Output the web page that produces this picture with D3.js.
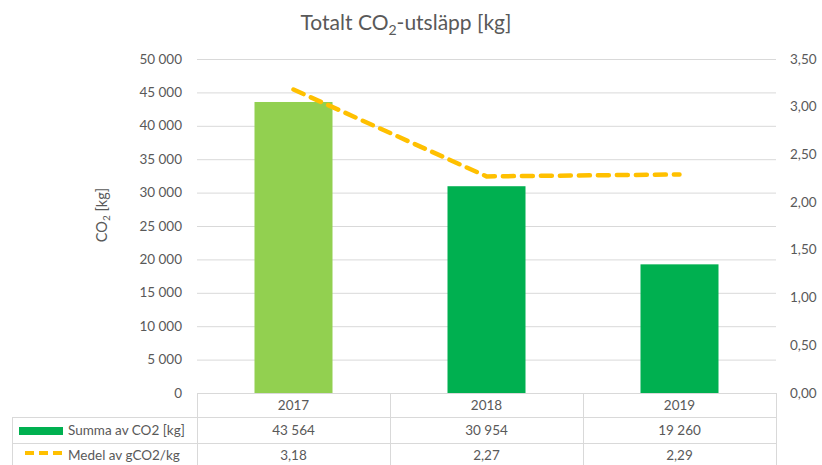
<!DOCTYPE html>
<html>
<head>
<meta charset="utf-8">
<script src="https://cdn.jsdelivr.net/npm/d3@7"></script>
<style>
  body { margin: 0; background: #fff; }
  svg text { font-family: Lato, "Open Sans", sans-serif; fill: #595959; }
</style>
</head>
<body>
<div id="chart"></div>
<script>
// Data
var years = ['2017', '2018', '2019'];
var co2Sum = [43564, 30954, 19260];
var gco2Mean = [3.18, 2.27, 2.29];
var barColors = ['#92D050', '#00B050', '#00B050'];
var leftTicks = [0, 5000, 10000, 15000, 20000, 25000, 30000, 35000, 40000, 45000, 50000];
var rightTicks = [0, 0.5, 1, 1.5, 2, 2.5, 3, 3.5];
var rowLabels = ['Summa av CO2 [kg]', 'Medel av gCO2/kg'];

var W = 822, H = 465;
var plot = { left: 197, right: 776, top: 59, bottom: 393 };

var svg = d3.select('#chart').append('svg')
    .attr('width', W)
    .attr('height', H);

// number formatting, swedish style
var fmtThousands = function(v) {
    return d3.format(',')(v).replace(/,/g, ' ');
};
var fmtDec = function(v) {
    return d3.format('.2f')(v).replace('.', ',');
};

var x = d3.scaleBand().domain(years).range([plot.left, plot.right]);
var yLeft = d3.scaleLinear().domain([0, 50000]).range([plot.bottom, plot.top]);
var yRight = d3.scaleLinear().domain([0, 3.5]).range([plot.bottom, plot.top]);

// gridlines
svg.append('g')
    .selectAll('line')
    .data(leftTicks.slice(1))
    .enter()
    .append('line')
    .attr('x1', plot.left)
    .attr('x2', plot.right)
    .attr('y1', function(d) { return yLeft(d) + 0.5; })
    .attr('y2', function(d) { return yLeft(d) + 0.5; })
    .attr('stroke', '#d9d9d9')
    .attr('stroke-width', 1);

// left axis labels
svg.append('g')
    .selectAll('text')
    .data(leftTicks)
    .enter()
    .append('text')
    .attr('x', 182)
    .attr('y', function(d) { return yLeft(d) + 4.5; })
    .attr('text-anchor', 'end')
    .style('font-size', '13.5px')
    .text(fmtThousands);

// right axis labels
svg.append('g')
    .selectAll('text')
    .data(rightTicks)
    .enter()
    .append('text')
    .attr('x', 790)
    .attr('y', function(d) { return yRight(d) + 4.5; })
    .attr('text-anchor', 'start')
    .style('font-size', '13.5px')
    .text(fmtDec);

// bars
var barW = 78;
svg.append('g')
    .selectAll('rect')
    .data(co2Sum)
    .enter()
    .append('rect')
    .attr('x', function(d, i) { return x(years[i]) + x.bandwidth() / 2 - barW / 2; })
    .attr('y', function(d) { return yLeft(d); })
    .attr('width', barW)
    .attr('height', function(d) { return plot.bottom - yLeft(d); })
    .attr('fill', function(d, i) { return barColors[i]; });

// line
var line = d3.line()
    .x(function(d, i) { return x(years[i]) + x.bandwidth() / 2; })
    .y(function(d) { return yRight(d); });

svg.append('path')
    .datum(gco2Mean)
    .attr('d', line)
    .attr('fill', 'none')
    .attr('stroke', '#FFC000')
    .attr('stroke-width', 4.5)
    .attr('stroke-dasharray', '11 8')
    .attr('stroke-linecap', 'round')
    .attr('stroke-linejoin', 'round');

// data table
var tbl = svg.append('g').attr('stroke', '#d9d9d9').attr('stroke-width', 1);
var rowY = [plot.bottom, 417, 443, 470];
// horizontal lines
tbl.append('line').attr('x1', plot.left).attr('x2', plot.right).attr('y1', rowY[0] + 0.5).attr('y2', rowY[0] + 0.5);
tbl.append('line').attr('x1', 12).attr('x2', plot.right).attr('y1', rowY[1] + 0.5).attr('y2', rowY[1] + 0.5);
tbl.append('line').attr('x1', 12).attr('x2', plot.right).attr('y1', rowY[2] + 0.5).attr('y2', rowY[2] + 0.5);
// vertical lines
tbl.append('line').attr('x1', 12.5).attr('x2', 12.5).attr('y1', rowY[1]).attr('y2', H);
var colEdges = [plot.left].concat(years.map(function(y) { return x(y) + x.bandwidth(); }));
tbl.selectAll('line.v')
    .data(colEdges)
    .enter()
    .append('line')
    .attr('class', 'v')
    .attr('x1', function(d) { return Math.round(d) + 0.5; })
    .attr('x2', function(d) { return Math.round(d) + 0.5; })
    .attr('y1', rowY[0])
    .attr('y2', H);

// year headers
svg.append('g')
    .selectAll('text')
    .data(years)
    .enter()
    .append('text')
    .attr('x', function(d) { return x(d) + x.bandwidth() / 2; })
    .attr('y', 410)
    .attr('text-anchor', 'middle')
    .style('font-size', '13.5px')
    .text(function(d) { return d; });

svg.append('g')
    .selectAll('text')
    .data(co2Sum)
    .enter()
    .append('text')
    .attr('x', function(d, i) { return x(years[i]) + x.bandwidth() / 2; })
    .attr('y', 435)
    .attr('text-anchor', 'middle')
    .style('font-size', '13.5px')
    .text(fmtThousands);

svg.append('g')
    .selectAll('text')
    .data(gco2Mean)
    .enter()
    .append('text')
    .attr('x', function(d, i) { return x(years[i]) + x.bandwidth() / 2; })
    .attr('y', 460)
    .attr('text-anchor', 'middle')
    .style('font-size', '13.5px')
    .text(fmtDec);

// legend keys in table
svg.append('rect')
    .attr('x', 19).attr('y', 427).attr('width', 44).attr('height', 8)
    .attr('fill', '#00B050');
svg.append('line')
    .attr('x1', 25).attr('x2', 63).attr('y1', 453).attr('y2', 453)
    .attr('stroke', '#FFC000').attr('stroke-width', 4)
    .attr('stroke-dasharray', '9 5');
svg.selectAll('text.rowlabel')
    .data(rowLabels)
    .enter()
    .append('text')
    .attr('class', 'rowlabel')
    .attr('x', 68)
    .attr('y', function(d, i) { return i == 0 ? 435 : 460; })
    .style('font-size', '13.5px')
    .text(function(d) { return d; });

// y axis title
var yt = svg.append('text')
    .attr('transform', 'translate(107,215) rotate(-90)')
    .attr('text-anchor', 'middle')
    .style('font-size', '14.5px');
yt.append('tspan').text('CO');
yt.append('tspan').attr('dy', 3).style('font-size', '10px').text('2');
yt.append('tspan').attr('dy', -3).text(' [kg]');

// chart title
var title = svg.append('text')
    .attr('x', 406)
    .attr('y', 30)
    .attr('text-anchor', 'middle')
    .style('font-size', '21px');
title.append('tspan').text('Totalt CO');
title.append('tspan').attr('dy', 5).style('font-size', '14px').text('2');
title.append('tspan').attr('dy', -5).text('-utsläpp [kg]');
</script>
</body>
</html>
